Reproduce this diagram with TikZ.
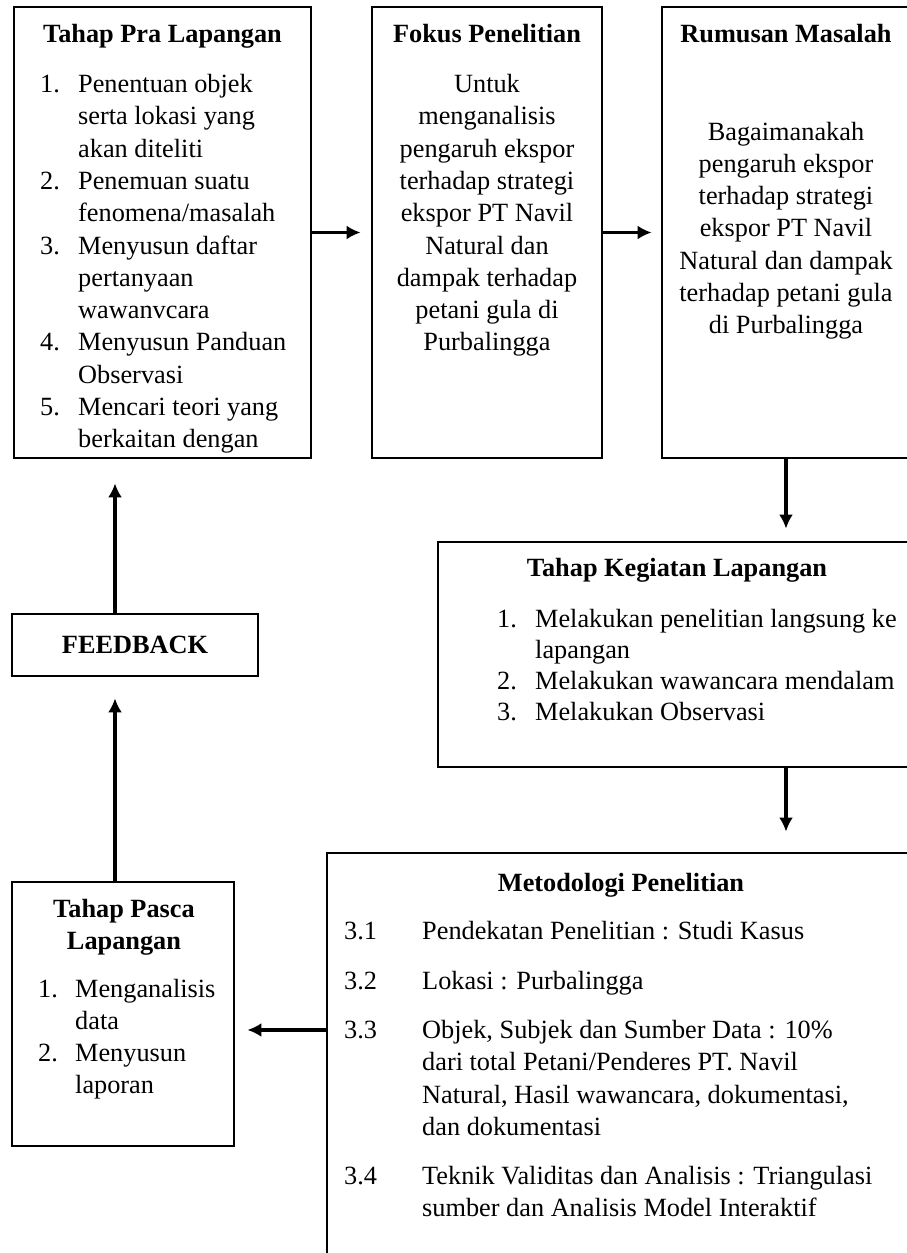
\documentclass[tikz,border=0pt]{standalone}
\usepackage{fontspec}
\setmainfont{Liberation Serif}
\usetikzlibrary{arrows.meta,positioning}
\tikzstyle{kotak}=[rectangle,draw=black,line width=2.8pt,inner sep=0pt]
\tikzstyle{isi}=[inner sep=0pt,font=\fontsize{26.3}{32.3}\selectfont]
\tikzstyle{judul}=[inner sep=0pt,font=\fontsize{26.3}{32.3}\selectfont\bfseries]
\tikzstyle{panah}=[->,line width=3.8pt]

\begin{document}
\begin{tikzpicture}[x=1pt,y=-1pt,>={Latex[length=14pt,width=14pt]}]
	\useasboundingbox (0,0) rectangle (907,1253);
	\clip (0,0) rectangle (907,1253);
	% kotak-kotak
	\node[kotak,minimum width=297,minimum height=451] (pra) at (162.5,232.5) {};
	\node[kotak,minimum width=230,minimum height=451] (fokus) at (487,232.5) {};
	\node[kotak,minimum width=248,minimum height=451] (rumusan) at (786,232.5) {};
	\node[kotak,minimum width=478,minimum height=225] (kegiatan) at (677,654.5) {};
	\node[kotak,minimum width=588,minimum height=417] (metode) at (621,1061.5) {};
	\node[kotak,minimum width=222,minimum height=264] (pasca) at (123,1014) {};
	\node[kotak,judul,minimum width=246,minimum height=62] (feedback) at (135,645) {FEEDBACK};
	% tahap pra lapangan
	\node[judul,anchor=base] (pra judul) at (162.5,42) {Tahap Pra Lapangan};
	\begin{scope}
		\clip (pra.south west) rectangle (pra.north east);
		\node[isi,anchor=base west] (pra isi) at (40,92.5) {\begin{tabular}[t]{@{}p{38pt}@{}l@{}}
			1. & Penentuan objek\\
			& serta lokasi yang\\
			& akan diteliti\\
			2. & Penemuan suatu\\
			& fenomena/masalah\\
			3. & Menyusun daftar\\
			& pertanyaan\\
			& wawanvcara\\
			4. & Menyusun Panduan\\
			& Observasi\\
			5. & Mencari teori yang\\
			& berkaitan dengan
		\end{tabular}};
	\end{scope}
	% fokus penelitian
	\node[judul,anchor=base] (fokus judul) at (487,42) {Fokus Penelitian};
	\node[isi,anchor=base] (fokus isi) at (487,92.5) {\begin{tabular}[t]{@{}c@{}}
		Untuk\\ menganalisis\\ pengaruh ekspor\\ terhadap strategi\\ ekspor PT Navil\\
		Natural dan\\ dampak terhadap\\ petani gula di\\ Purbalingga
	\end{tabular}};
	% rumusan masalah
	\node[judul,anchor=base] (rumusan judul) at (786,42) {Rumusan Masalah};
	\node[isi,anchor=base] (rumusan isi) at (786,140) {\begin{tabular}[t]{@{}c@{}}
		Bagaimanakah\\ pengaruh ekspor\\ terhadap strategi\\ ekspor PT Navil\\
		Natural dan dampak\\ terhadap petani gula\\ di Purbalingga
	\end{tabular}};
	% tahap kegiatan lapangan
	\node[judul,anchor=base] (kegiatan judul) at (677,576) {Tahap Kegiatan Lapangan};
	\node[isi,anchor=base west,font=\fontsize{26.3}{31.2}\selectfont] (kegiatan isi) at (497,627) {\begin{tabular}[t]{@{}p{38pt}@{}l@{}}
		1. & Melakukan penelitian langsung ke\\
		& lapangan\\
		2. & Melakukan wawancara mendalam\\
		3. & Melakukan Observasi
	\end{tabular}};
	% metodologi penelitian
	\node[judul,anchor=base] (metode judul) at (621,891) {Metodologi Penelitian};
	\node[isi,anchor=base west] (m31) at (344,939) {3.1};
	\node[isi,anchor=base west] (m32) at (344,989) {3.2};
	\node[isi,anchor=base west] (m33) at (344,1038.5) {3.3};
	\node[isi,anchor=base west] (m34) at (344,1184) {3.4};
	\node[isi,anchor=base west] (m31 isi) at (422,939) {Pendekatan Penelitian : Studi Kasus};
	\node[isi,anchor=base west] (m32 isi) at (422,989) {Lokasi : Purbalingga};
	\node[isi,anchor=base west] (m33 isi) at (422,1038.5) {\begin{tabular}[t]{@{}l@{}}
		Objek, Subjek dan Sumber Data : 10\%\\
		dari total Petani/Penderes PT. Navil\\
		Natural, Hasil wawancara, dokumentasi,\\
		dan dokumentasi
	\end{tabular}};
	\node[isi,anchor=base west] (m34 isi) at (422,1184) {\begin{tabular}[t]{@{}l@{}}
		Teknik Validitas dan Analisis : Triangulasi\\
		sumber dan Analisis Model Interaktif
	\end{tabular}};
	% tahap pasca lapangan
	\node[judul,anchor=base] (pasca judul) at (124,917) {\begin{tabular}[t]{@{}c@{}}Tahap Pasca\\ Lapangan\end{tabular}};
	\node[isi,anchor=base west] (pasca isi) at (38,997) {\begin{tabular}[t]{@{}p{37pt}@{}l@{}}
		1. & Menganalisis\\
		& data\\
		2. & Menyusun\\
		& laporan
	\end{tabular}};
	% panah
	\coordinate (balik) at (115,0);
	\draw[panah,shorten >=10pt] (pra.east) -- (fokus.west);
	\draw[panah,shorten >=9pt] (fokus.east) -- (rumusan.west);
	\draw[panah,shorten >=12pt] (rumusan.south) -- (rumusan.south |- kegiatan.north);
	\draw[panah,shorten >=20pt] (kegiatan.south -| rumusan.south) -- (metode.north -| rumusan.south);
	\draw[panah,shorten >=12pt] (metode.west |- m33.west) -- (pasca.east |- m33.west);
	\draw[panah,shorten >=21pt] (pasca.north -| balik) -- (feedback.south -| balik);
	\draw[panah,shorten >=24pt] (feedback.north -| balik) -- (pra.south -| balik);
\end{tikzpicture}
\end{document}
